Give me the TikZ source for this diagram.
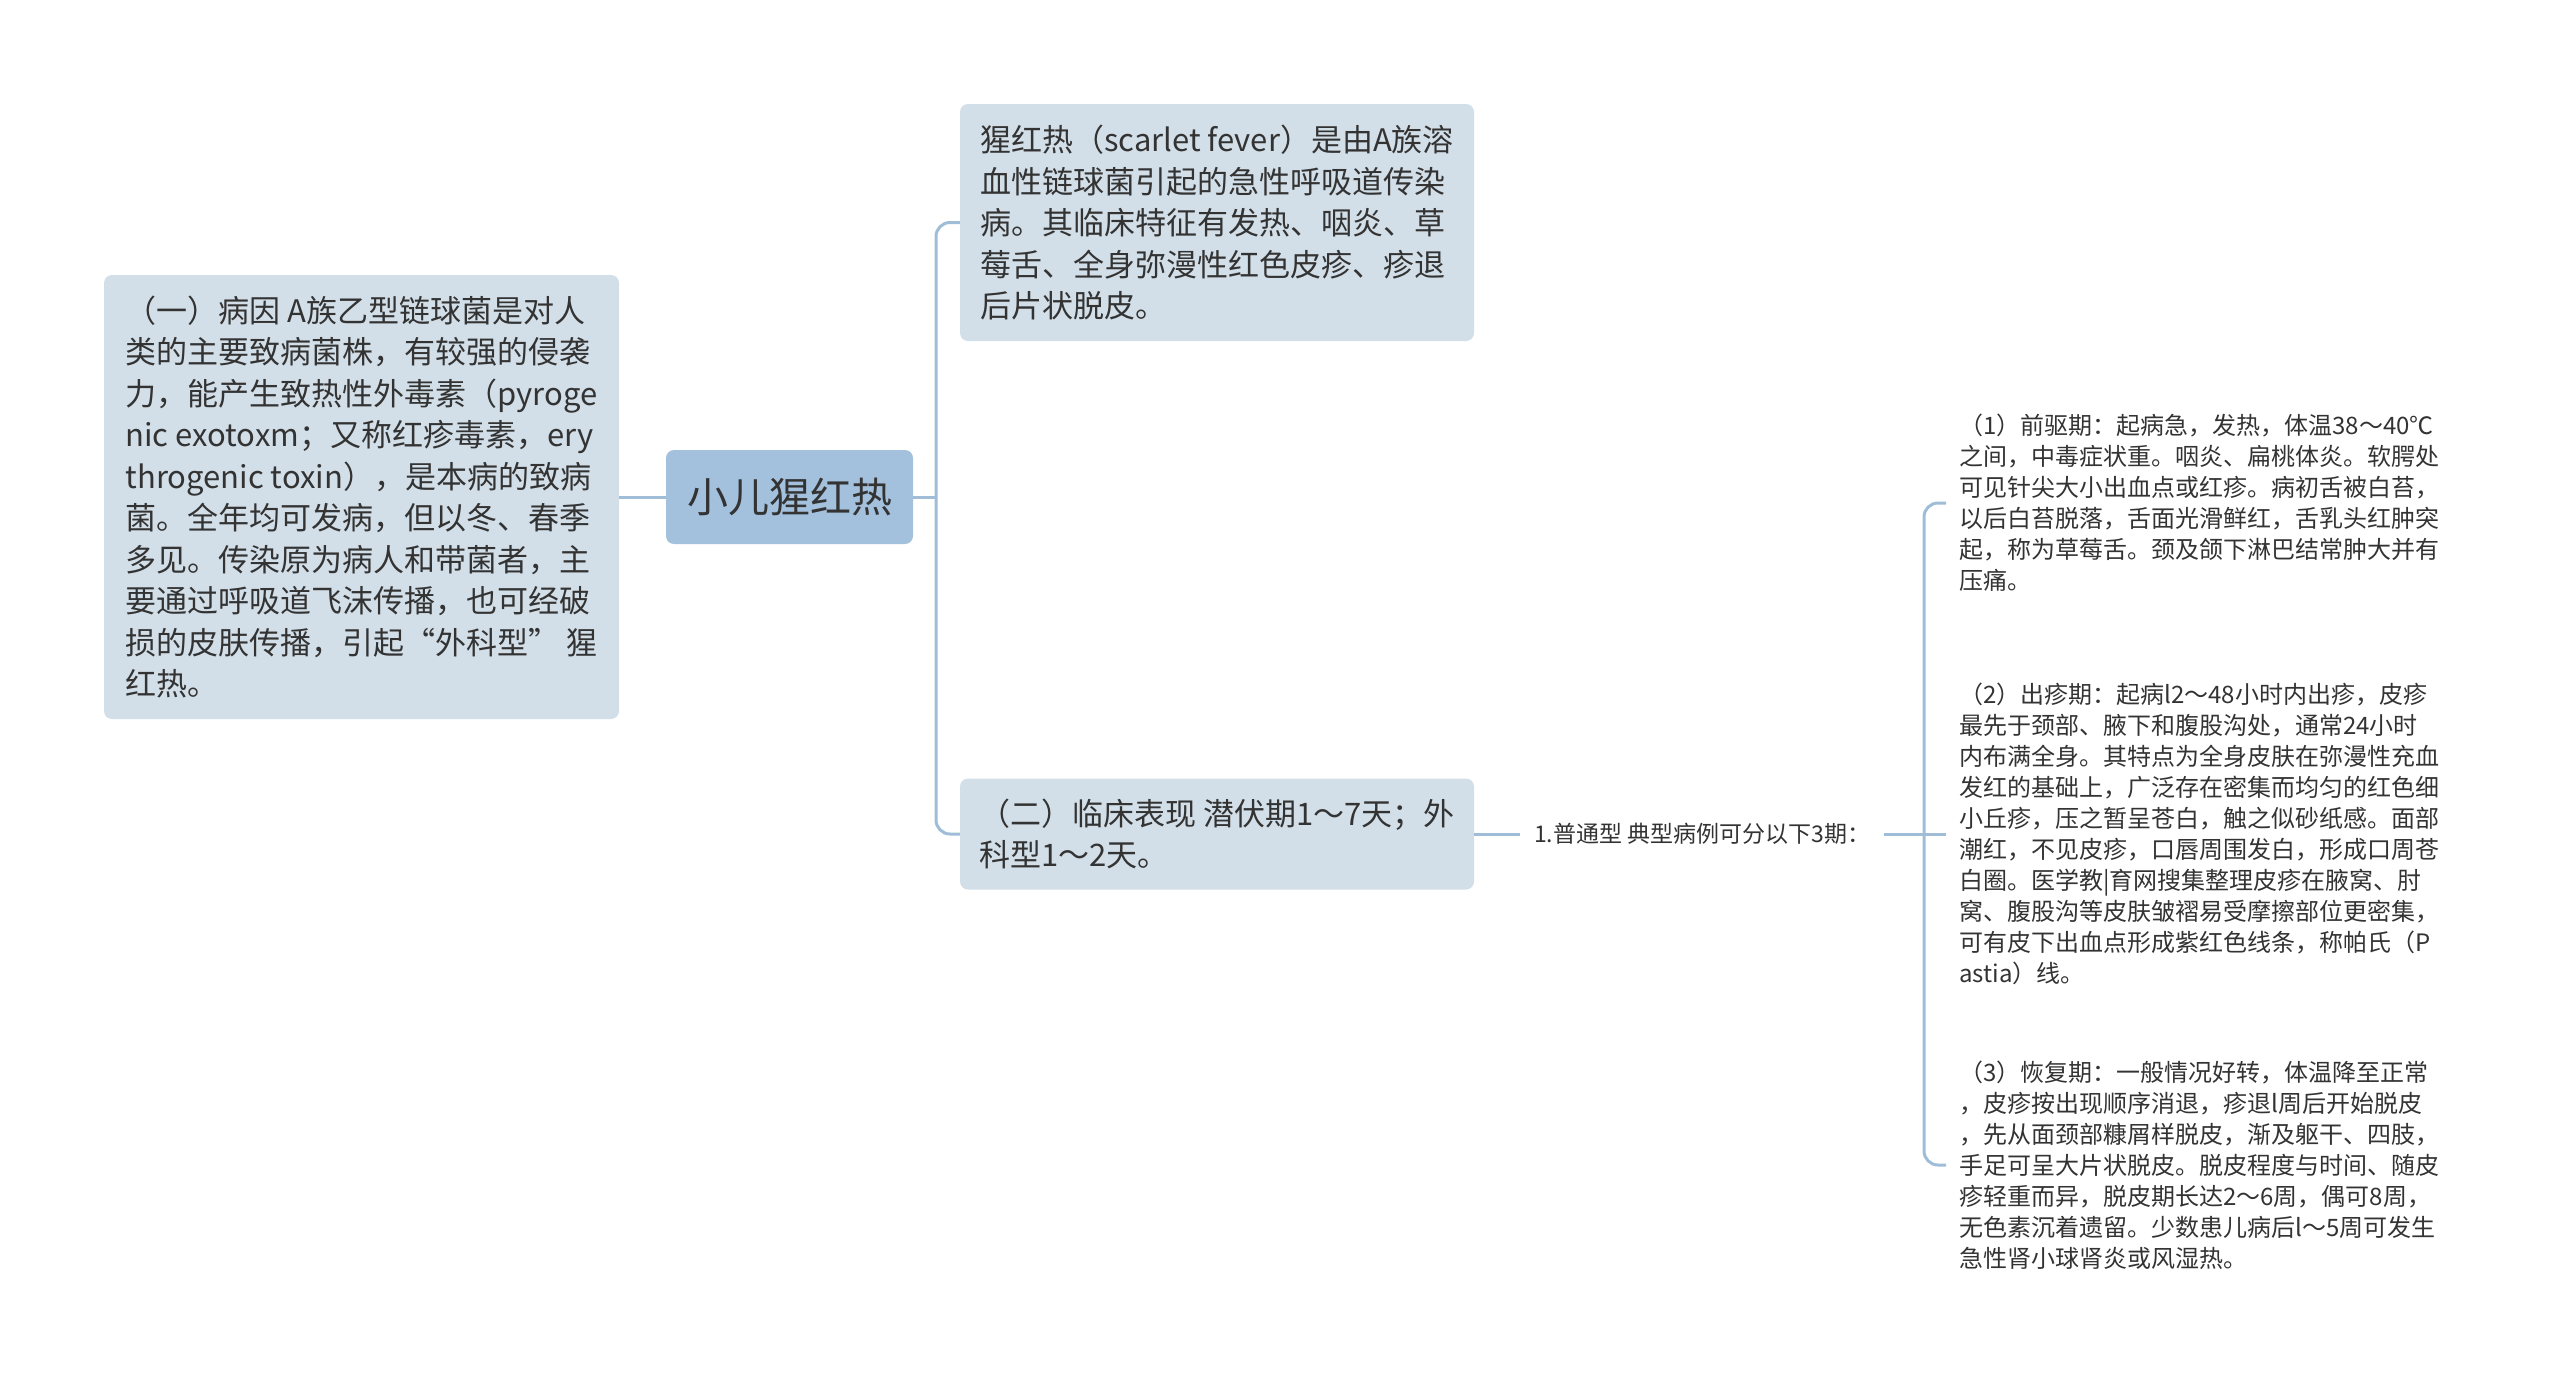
\documentclass[tikz,border=0pt]{standalone}
\usepackage{fontspec}
\setmainfont{Noto Sans CJK SC}
\definecolor{rootblue}{HTML}{A3C1DD}
\definecolor{boxblue}{HTML}{D3DFE8}
\definecolor{lineblue}{HTML}{A0BDD8}
\definecolor{textgray}{HTML}{333333}
\begin{document}
\begin{tikzpicture}[x=1pt,y=-1pt,
    topic/.style={fill=rootblue, rounded corners=8, text=textgray, font=\fontsize{41}{48}\selectfont, minimum width=247, minimum height=94},
    branch/.style={fill=boxblue, rounded corners=8, text=textgray, align=left, font=\fontsize{31}{41.5}\selectfont},
    plain/.style={text=textgray, inner xsep=14, inner ysep=4, font=\fontsize{23}{28}\selectfont},
    detail/.style={text=textgray, align=left, inner xsep=13, inner ysep=0, font=\fontsize{24}{31}\selectfont},
    link/.style={draw=lineblue, line width=3, rounded corners=14}]
\useasboundingbox (0,0) rectangle (2560,1393);
% main topic and its branches
\node[topic] (root) at (789.5,497) {小儿猩红热};
\node[branch, minimum width=515, minimum height=444] (cause) at (361.5,497) {（一）病因 A族乙型链球菌是对人\\类的主要致病菌株，有较强的侵袭\\力，能产生致热性外毒素（pyroge\\nic exotoxm；又称红疹毒素，ery\\throgenic toxin），是本病的致病\\菌。全年均可发病，但以冬、春季\\多见。传染原为病人和带菌者，主\\要通过呼吸道飞沫传播，也可经破\\损的皮肤传播，引起“外科型” 猩\\红热。};
\node[branch, minimum width=514, minimum height=237] (fever) at (1217,222.5) {猩红热（scarlet fever）是由A族溶\\血性链球菌引起的急性呼吸道传染\\病。其临床特征有发热、咽炎、草\\莓舌、全身弥漫性红色皮疹、疹退\\后片状脱皮。};
\node[branch, minimum width=514, minimum height=111] (clinic) at (1217,834) {（二）临床表现 潜伏期1～7天；外\\科型1～2天。};
\node[plain, anchor=west] (common) at (1520,834) {1.普通型 典型病例可分以下3期：};
% three stages
\node[detail, anchor=west] (prodrome) at (1946,503) {（1）前驱期：起病急，发热，体温38～40℃\\之间，中毒症状重。咽炎、扁桃体炎。软腭处\\可见针尖大小出血点或红疹。病初舌被白苔，\\以后白苔脱落，舌面光滑鲜红，舌乳头红肿突\\起，称为草莓舌。颈及颌下淋巴结常肿大并有\\压痛。};
\node[detail, anchor=west] (rash) at (1946,834) {（2）出疹期：起病l2～48小时内出疹，皮疹\\最先于颈部、腋下和腹股沟处，通常24小时\\内布满全身。其特点为全身皮肤在弥漫性充血\\发红的基础上，广泛存在密集而均匀的红色细\\小丘疹，压之暂呈苍白，触之似砂纸感。面部\\潮红，不见皮疹，口唇周围发白，形成口周苍\\白圈。医学教|育网搜集整理皮疹在腋窝、肘\\窝、腹股沟等皮肤皱褶易受摩擦部位更密集，\\可有皮下出血点形成紫红色线条，称帕氏（P\\astia）线。};
\node[detail, anchor=west] (recovery) at (1946,1165) {（3）恢复期：一般情况好转，体温降至正常\\，皮疹按出现顺序消退，疹退l周后开始脱皮\\，先从面颈部糠屑样脱皮，渐及躯干、四肢，\\手足可呈大片状脱皮。脱皮程度与时间、随皮\\疹轻重而异，脱皮期长达2～6周，偶可8周，\\无色素沉着遗留。少数患儿病后l～5周可发生\\急性肾小球肾炎或风湿热。};
% connectors
\coordinate (fork) at (936,497);
\coordinate (split) at (1924,834);
\draw[link] (root.west) -- (cause.east);
\draw[link] (root.east) -- (fork);
\draw[link] (fork) |- (fever.west);
\draw[link] (fork) |- (clinic.west);
\draw[link] (clinic.east) -- (common.west);
\draw[link] (common.east) -- (split);
\draw[link] (split) |- (prodrome.west);
\draw[link] (split) -- (rash.west);
\draw[link] (split) |- (recovery.west);
\end{tikzpicture}
\end{document}
